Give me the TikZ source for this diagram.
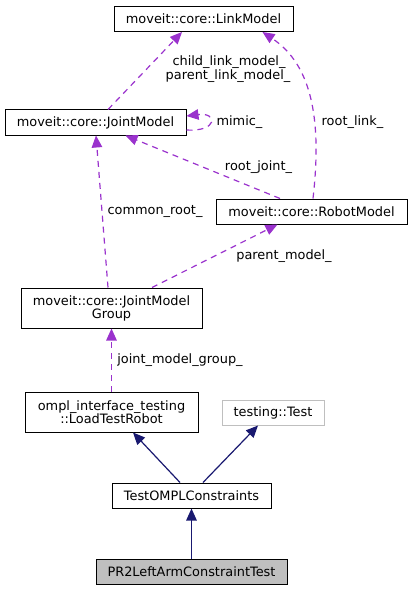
\documentclass[tikz,border=0pt]{standalone}
\usepackage{fontspec}
\setmainfont{DejaVu Sans}
\usetikzlibrary{arrows.meta}
\definecolor{edgepurple}{HTML}{9A32CD}
\definecolor{edgenavy}{HTML}{191970}
\definecolor{boxgray}{HTML}{BFBFBF}
\begin{document}
\begin{tikzpicture}[x=1pt,y=-1pt,
  every node/.style={font=\fontsize{12.9}{13}\selectfont, inner sep=0pt, align=center},
  cls/.style={draw=black, line width=1pt, fill=white},
  lbl/.style={fill=none},
  usage/.style={draw=edgepurple, line width=1.2pt, dash pattern=on 6pt off 5pt, -{Triangle[length=12pt,width=10.5pt]}},
  inherit/.style={draw=edgenavy, line width=1.2pt, -{Triangle[length=12pt,width=10.5pt]}},
]
\useasboundingbox (0,0) rectangle (413,591);

\node[cls, minimum width=179pt, minimum height=25pt] (LM) at (203.5,19) {moveit::core::LinkModel};
\node[cls, minimum width=181pt, minimum height=25pt] (JM) at (95.5,122.5) {moveit::core::JointModel};
\node[cls, minimum width=191pt, minimum height=25pt] (RM) at (311.5,211.5) {moveit::core::RobotModel};
\node[cls, minimum width=181pt, minimum height=40pt] (JMG) at (111.5,308) {moveit::core::JointModel\\Group};
\node[cls, minimum width=173pt, minimum height=40pt] (LTR) at (111.5,412) {ompl\_interface\_testing\\::LoadTestRobot};
\node[draw=boxgray, line width=1pt, fill=white, minimum width=102pt, minimum height=25pt] (TT) at (273,412.5) {testing::Test};
\node[cls, minimum width=159pt, minimum height=25pt] (TOC) at (191.5,495.5) {TestOMPLConstraints};
\node[cls, fill=boxgray, minimum width=191pt, minimum height=25pt] (PR2) at (191.5,571.5) {PR2LeftArmConstraintTest};

% usage edges
\draw[usage] ([xshift=12.5pt]JM.north) -- ([xshift=-21.5pt]LM.south);
\draw[usage] ([xshift=1.5pt]RM.north) .. controls (322,120) and (312,65) .. ([xshift=59pt]LM.south);
\draw[usage] ([yshift=-7.5pt]JM.east) .. controls (218,132) and (218,112) .. ([yshift=6.5pt]JM.east);
\draw[usage] ([xshift=-31.5pt]RM.north) -- ([xshift=30pt]JM.south);
\draw[usage] ([xshift=-3.5pt]JMG.north) -- ([xshift=0.5pt]JM.south);
\draw[usage] ([xshift=40.5pt]JMG.north) -- ([xshift=-34pt]RM.south);
\draw[usage] (LTR.north) -- (JMG.south);

% inheritance edges
\draw[inherit] ([xshift=-11.5pt]TOC.north) -- ([xshift=21.5pt]LTR.south);
\draw[inherit] ([xshift=11.5pt]TOC.north) -- ([xshift=-15pt]TT.south);
\draw[inherit] (PR2.north) -- (TOC.south);

% labels
\node[lbl] (l1) at (229,62) {child\_link\_model\_};
\node[lbl] (l2) at (228,76.5) {parent\_link\_model\_};
\node[lbl] (l3) at (239.5,122) {mimic\_};
\node[lbl] (l4) at (352.5,122) {root\_link\_};
\node[lbl] (l5) at (258.5,167) {root\_joint\_};
\node[lbl] (l6) at (155,211) {common\_root\_};
\node[lbl] (l7) at (284,256) {parent\_model\_};
\node[lbl] (l8) at (180,360) {joint\_model\_group\_};
\end{tikzpicture}
\end{document}
